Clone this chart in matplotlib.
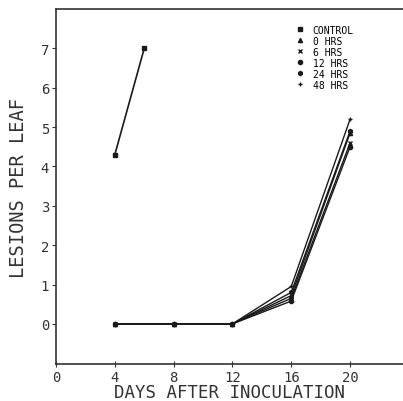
import matplotlib
matplotlib.use("Agg")
import matplotlib.pyplot as plt

# control series (only two points)
control_days = [4, 6]
control_values = [4.3, 7.0]

# treated series, sampled on the same days
days = [4, 8, 12, 16, 20]
treatments = ["0 HRS", "6 HRS", "12 HRS", "24 HRS", "48 HRS"]
treatment_values = [
    [0, 0, 0, 0.72, 4.85],
    [0, 0, 0, 0.65, 4.6],
    [0, 0, 0, 0.58, 4.5],
    [0, 0, 0, 0.8, 4.9],
    [0, 0, 0, 0.95, 5.2],
]
markers = ["^", "x", "o", "h", "+"]

x_ticks = [0, 4, 8, 12, 16, 20]
y_ticks = [0, 1, 2, 3, 4, 5, 6, 7]

plt.rcParams["font.family"] = ["DejaVu Sans Mono"]

fig = plt.figure(figsize=(4.03, 4.02), dpi=100)
ax = fig.add_axes([0.139, 0.092, 0.861, 0.883])

ax.plot(control_days, control_values, color="#1a1a1a", linewidth=1.2,
        marker="s", markersize=3, label="CONTROL")
for label, values, marker in zip(treatments, treatment_values, markers):
    ax.plot(days, values, color="#1a1a1a", linewidth=1.0, marker=marker,
            markersize=3, markeredgewidth=1.0, label=label)

ax.set_xlim(0, 23.6)
ax.set_ylim(-1.02, 8.0)
ax.set_xticks(x_ticks)
ax.set_yticks(y_ticks)
ax.spines["right"].set_visible(False)
for side in ["left", "bottom", "top"]:
    ax.spines[side].set_linewidth(1.2)
    ax.spines[side].set_color("#333333")
ax.tick_params(axis="x", direction="inout", length=5, labelsize=10, pad=2,
               colors="#333333")
ax.tick_params(axis="y", direction="out", length=3, labelsize=10, pad=2,
               colors="#333333")

ax.set_xlabel("DAYS AFTER INOCULATION", fontsize=12.5, labelpad=-1, color="#333333")
ax.set_ylabel("LESIONS PER LEAF", fontsize=13.5, labelpad=9, color="#333333")

ax.legend(loc="upper left", bbox_to_anchor=(0.67, 0.975), frameon=False,
          fontsize=7, handlelength=1.0, handletextpad=0.8,
          labelspacing=0.1, borderpad=0.2)
legend = ax.get_legend()
for line in legend.get_lines():
    line.set_linestyle("none")

plt.savefig("out.png", dpi=100)
plt.close()
